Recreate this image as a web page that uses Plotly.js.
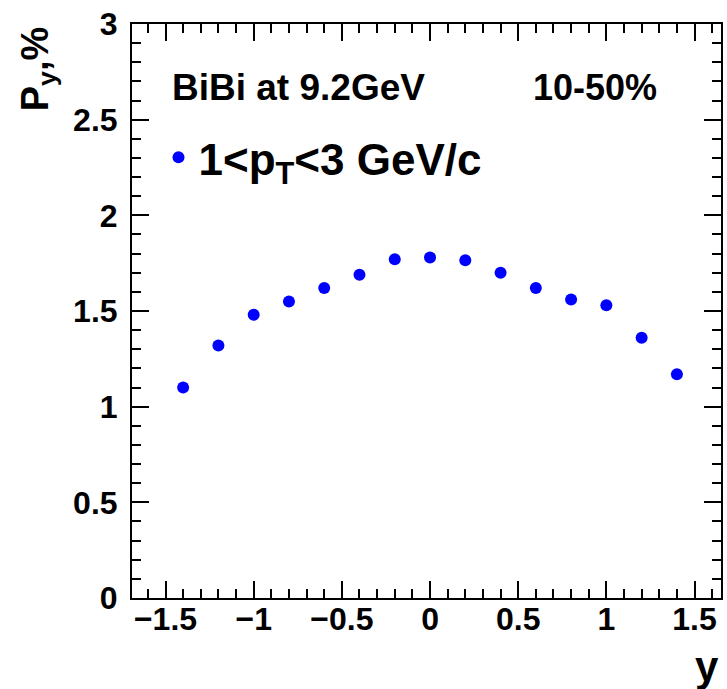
<!DOCTYPE html>
<html>
<head>
<meta charset="utf-8">
<script src="https://cdn.plot.ly/plotly-3.0.1.min.js"></script>
<style>html,body{margin:0;padding:0;background:#fff;}</style>
</head>
<body>
<div id="chart" style="width:727px;height:689px;"></div>
<script>
// Rapidity values
var rapidity = [-1.4, -1.2, -1.0, -0.8, -0.6, -0.4, -0.2, 0.0, 0.2, 0.4, 0.6, 0.8, 1.0, 1.2, 1.4];
// Polarization P_y in %
var polarization = [1.10, 1.32, 1.48, 1.55, 1.62, 1.69, 1.77, 1.78, 1.765, 1.70, 1.62, 1.56, 1.53, 1.36, 1.17];
var seriesName = "1&lt;p<sub>T</sub>&lt;3 GeV/c";
var systemLabel = "BiBi at 9.2GeV";
var centralityLabel = "10-50%";
var xTitle = "y";
var yTitle = "P<sub>y</sub>,%";

var FONT = "Liberation Sans, Arial, Helvetica, sans-serif";

var trace = {
  x: rapidity,
  y: polarization,
  type: "scatter",
  mode: "markers",
  name: seriesName,
  marker: {color: "#0000ff", size: 12, symbol: "circle"}
};

function axisCommon() {
  return {
    showline: true,
    linecolor: "black",
    linewidth: 2,
    mirror: "ticks",
    ticks: "inside",
    ticklen: 17,
    tickwidth: 2,
    tickcolor: "black",
    showgrid: false,
    zeroline: false,
    tickfont: {family: FONT, size: 32, color: "black", weight: "bold"},
    minor: {dtick: 0.1, ticks: "inside", ticklen: 9, tickwidth: 2, tickcolor: "black", showgrid: false}
  };
}

var xaxis = axisCommon();
xaxis.range = [-1.69, 1.65];
xaxis.tick0 = 0;
xaxis.dtick = 0.5;
xaxis.ticklabelstandoff = -8;

var yaxis = axisCommon();
yaxis.range = [0, 3];
yaxis.tick0 = 0;
yaxis.dtick = 0.5;
yaxis.ticklabelstandoff = 6;

var layout = {
  width: 727,
  height: 689,
  margin: {l: 132, r: 6, t: 24, b: 91},
  paper_bgcolor: "white",
  plot_bgcolor: "white",
  showlegend: true,
  legend: {
    x: 0.045, y: 0.767, xanchor: "left", yanchor: "middle",
    bgcolor: "rgba(0,0,0,0)",
    font: {family: FONT, size: 44, color: "black", weight: "bold"}
  },
  xaxis: xaxis,
  yaxis: yaxis,
  annotations: [
    {xref: "paper", yref: "paper", x: 0.065, y: 0.89, xanchor: "left", yanchor: "middle",
     text: systemLabel, showarrow: false,
     font: {family: FONT, size: 37, color: "black", weight: "bold"}},
    {xref: "paper", yref: "paper", x: 0.678, y: 0.89, xanchor: "left", yanchor: "middle",
     text: centralityLabel, showarrow: false,
     font: {family: FONT, size: 36, color: "black", weight: "bold"}},
    {xref: "paper", yref: "paper", x: 1.0, y: -0.12, xanchor: "right", yanchor: "middle",
     text: xTitle, showarrow: false,
     font: {family: FONT, size: 42, color: "black", weight: "bold"}},
    {xref: "paper", yref: "paper", x: -0.16, y: 1.0, xanchor: "center", yanchor: "top",
     text: yTitle, showarrow: false, textangle: -90,
     font: {family: FONT, size: 38, color: "black", weight: "bold"}}
  ]
};

Plotly.newPlot("chart", [trace], layout, {displayModeBar: false, staticPlot: true});
</script>
</body>
</html>
